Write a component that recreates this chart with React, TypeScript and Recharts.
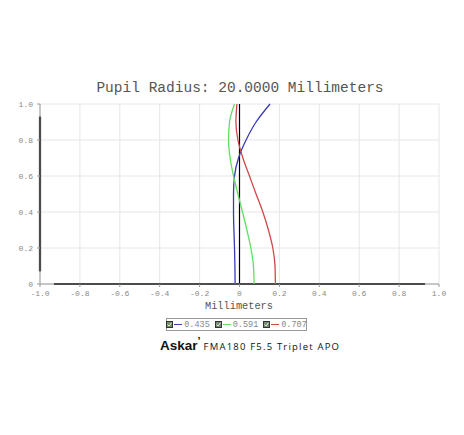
import { LineChart, Line, CartesianGrid, XAxis, YAxis, ReferenceLine } from "recharts";

const pupil = [0, 0.1, 0.2, 0.3, 0.4, 0.5, 0.6, 0.7, 0.8, 0.9, 1.0];
const field435 = [-0.022, -0.023, -0.025, -0.028, -0.03, -0.03, -0.025, -0.005, 0.033, 0.083, 0.153];
const field591 = [0.073, 0.07, 0.057, 0.037, 0.015, -0.008, -0.03, -0.047, -0.055, -0.05, -0.025];
const field707 = [0.18, 0.178, 0.167, 0.145, 0.117, 0.083, 0.05, 0.017, -0.008, -0.018, -0.013];

const xTicks = [-1, -0.8, -0.6, -0.4, -0.2, 0, 0.2, 0.4, 0.6, 0.8, 1];
const yTicks = [0, 0.2, 0.4, 0.6, 0.8, 1];
const yGrid = [0, 0.1, 0.2, 0.3, 0.4, 0.5, 0.6, 0.7, 0.8, 0.9, 1];

const legendItems = [
  { label: "0.435", color: "#3a3ab8" },
  { label: "0.591", color: "#5ee05e" },
  { label: "0.707", color: "#d04848" },
];

const data = pupil.map((y, i) => ({ y, a: field435[i], b: field591[i], c: field707[i] }));

const fmt = (v: number) => (v === 0 ? "0" : v.toFixed(1));
const mono = "'Liberation Mono', 'DejaVu Sans Mono', monospace";

function CheckBox() {
  return (
    <svg width="7" height="7" style={{ marginRight: 1 }}>
      <rect x="0.5" y="0.5" width="6" height="6" fill="#7a8a78" stroke="#333" strokeWidth="1" />
      <path d="M1.5 3.5 L3 5 L5.5 1.8" stroke="#d8f0d0" strokeWidth="1" fill="none" />
    </svg>
  );
}

export default function App() {
  return (
    <div style={{ position: "absolute", left: 0, top: 0, width: 464, height: 435, background: "#fff" }}>
      <div
        style={{
          position: "absolute", top: 80, left: 0, width: 480, textAlign: "center",
          fontFamily: mono, fontSize: 14.5, color: "#555",
        }}
      >
        Pupil Radius: 20.0000 Millimeters
      </div>
      <div style={{ position: "absolute", left: 0, top: 0 }}>
        <LineChart width={464} height={310} data={data} layout="vertical"
          margin={{ top: 104, right: 25, bottom: 6, left: 10 }}>
          <CartesianGrid stroke="#e6e6e6" horizontalValues={yGrid} verticalValues={xTicks} />
          <XAxis type="number" domain={[-1, 1]} ticks={xTicks} tickFormatter={fmt} height={20}
            axisLine={{ stroke: "#999" }} tickLine={{ stroke: "#999" }} tickSize={3} tickMargin={3}
            tick={{ fontFamily: mono, fontSize: 8, fill: "#888" }} />
          <YAxis type="number" dataKey="y" domain={[0, 1]} ticks={yTicks} tickFormatter={fmt} width={30}
            reversed axisLine={{ stroke: "#999" }} tickLine={{ stroke: "#999" }} tickSize={3} tickMargin={4}
            tick={{ fontFamily: mono, fontSize: 8, fill: "#888" }} />
          <ReferenceLine segment={[{ x: -1, y: 0.07 }, { x: -1, y: 0.93 }]} stroke="#000" strokeWidth={2.2}
            ifOverflow="visible" />
          <ReferenceLine segment={[{ x: -0.93, y: 0 }, { x: 0.93, y: 0 }]} stroke="#000" strokeWidth={2.2}
            ifOverflow="visible" />
          <ReferenceLine x={0} stroke="#000" strokeWidth={1.2} />
          <Line type="monotone" dataKey="a" stroke={legendItems[0].color} strokeWidth={1.3} dot={false} isAnimationActive={false} />
          <Line type="monotone" dataKey="b" stroke={legendItems[1].color} strokeWidth={1.3} dot={false} isAnimationActive={false} />
          <Line type="monotone" dataKey="c" stroke={legendItems[2].color} strokeWidth={1.3} dot={false} isAnimationActive={false} />
        </LineChart>
      </div>
      <div
        style={{
          position: "absolute", top: 300, left: 0, width: 478, textAlign: "center",
          fontFamily: mono, fontSize: 10.3, color: "#555",
        }}
      >
        Millimeters
      </div>
      <div
        style={{
          position: "absolute", top: 318, left: 166, width: 141, height: 13, boxSizing: "border-box",
          border: "1px solid #999", display: "flex", alignItems: "center", justifyContent: "center",
          fontFamily: mono, fontSize: 8.5, color: "#888", gap: 5,
        }}
      >
        {legendItems.map((it) => (
          <span key={it.label} style={{ display: "flex", alignItems: "center" }}>
            <CheckBox />
            <span style={{ display: "inline-block", width: 8, height: 1.5, background: it.color, marginRight: 2 }} />
            {it.label}
          </span>
        ))}
      </div>
      <div
        style={{
          position: "absolute", top: 336, left: 160, whiteSpace: "nowrap",
          fontFamily: "'Liberation Sans', Arial, sans-serif", color: "#111",
        }}
      >
        <span style={{ fontWeight: "bold", fontSize: 13.5 }}>Askar</span>
        <span style={{ fontWeight: "bold", fontSize: 11, verticalAlign: "top", position: "relative", top: -1 }}>’</span>
        <span style={{ fontFamily: "'Open Sans', sans-serif", fontSize: 9.5, letterSpacing: 1.2, marginLeft: 3 }}>FMA180 F5.5 Triplet APO</span>
      </div>
    </div>
  );
}
